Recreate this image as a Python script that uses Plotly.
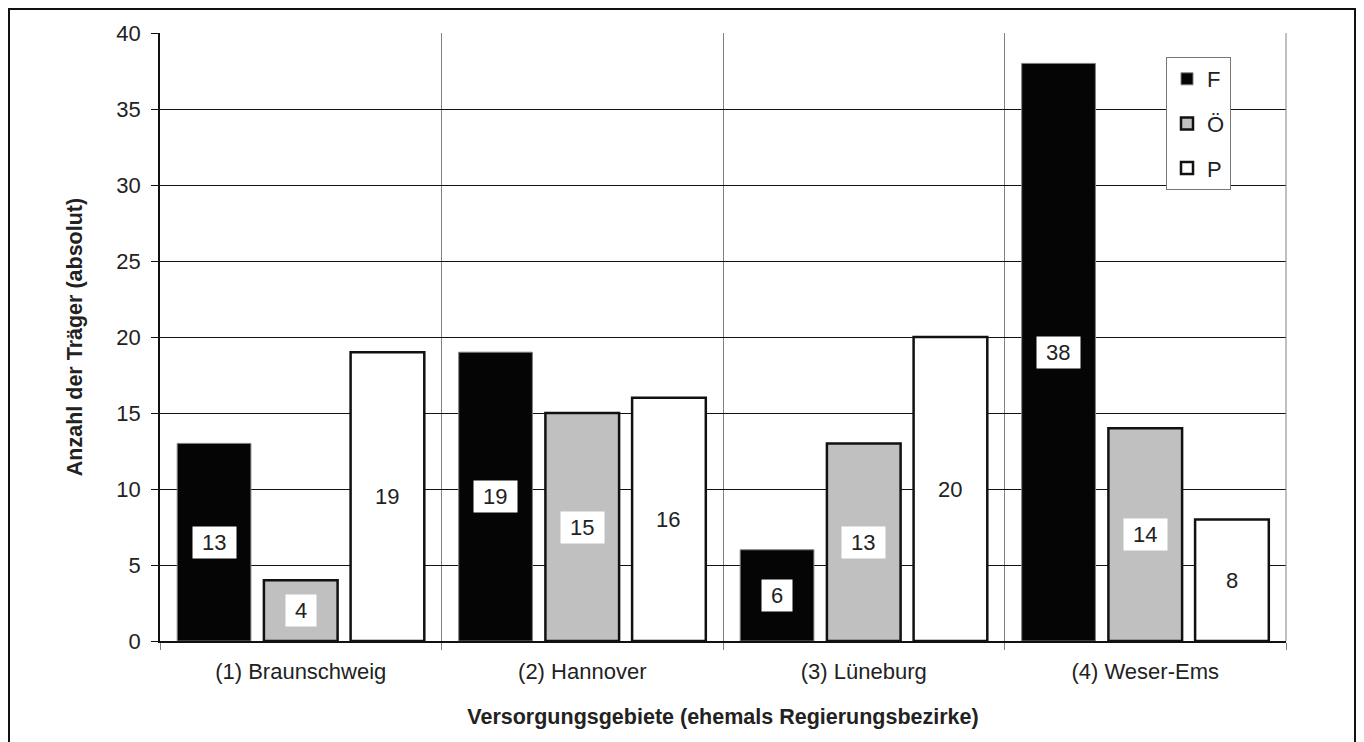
import plotly.graph_objects as go

categories = ["(1) Braunschweig", "(2) Hannover", "(3) Lüneburg", "(4) Weser-Ems"]
series_names = ["F", "Ö", "P"]
values_F = [13, 19, 6, 38]
values_O = [4, 15, 13, 14]
values_P = [19, 16, 20, 8]
y_ticks = [0, 5, 10, 15, 20, 25, 30, 35, 40]

FONT = "Liberation Sans, Arial, sans-serif"
TXT = "#222222"
bargap = 0.076
bargroupgap = 0.15

W, H = 1348, 734
L, R, T, B = 152, 70, 25, 101
PW, PH = W - L - R, H - T - B

series = [
    (series_names[0], values_F, "#050505", "#7f7f7f", 1),
    (series_names[1], values_O, "#c0c0c0", "#111111", 2.5),
    (series_names[2], values_P, "#ffffff", "#111111", 2.5),
]

fig = go.Figure()
for name, vals, fill, lc, lw in series:
    fig.add_trace(go.Bar(
        x=categories, y=vals, name=name, legendgroup=name,
        marker=dict(color=fill, line=dict(color=lc, width=lw)),
        hoverinfo="skip",
    ))

slot = (1 - bargap) / 3
annotations = []
for k, (name, vals, fill, lc, lw) in enumerate(series):
    for i, v in enumerate(vals):
        annotations.append(dict(
            x=i + (k - 1) * slot, y=v / 2, xref="x", yref="y",
            text="\u00a0" + str(v) + "\u00a0", showarrow=False,
            font=dict(family=FONT, size=22, color=TXT),
            bgcolor="#ffffff" if k < 2 else "rgba(0,0,0,0)",
            borderpad=3,
        ))

def px_x(fx):
    return (fx - L) / PW

def px_y(fy):
    return (H - B - fy) / PH

fig.update_layout(
    width=W, height=H,
    margin=dict(l=L, r=R, t=T, b=B),
    paper_bgcolor="white", plot_bgcolor="white",
    barmode="group", bargap=bargap, bargroupgap=bargroupgap,
    font=dict(family=FONT, size=22, color=TXT),
    annotations=annotations,
    legend=dict(
        x=px_x(1158), y=px_y(49), xanchor="left", yanchor="top",
        bgcolor="white", bordercolor="#777777", borderwidth=1,
        font=dict(family=FONT, size=22, color=TXT),
        tracegroupgap=13, itemwidth=30,
    ),
    xaxis=dict(
        type="category", tickson="boundaries",
        showgrid=True, gridcolor="#808080", gridwidth=1,
        ticks="outside", ticklen=7, tickcolor="#808080",
        showline=True, linecolor="#111111", linewidth=1.5,
        ticklabelstandoff=10,
        tickfont=dict(family=FONT, size=22, color=TXT),
        title=dict(text="<b>Versorgungsgebiete (ehemals Regierungsbezirke)</b>",
                   font=dict(family=FONT, size=21.5, color=TXT), standoff=26),
    ),
    yaxis=dict(
        range=[0, 40], tickvals=y_ticks,
        showgrid=True, gridcolor="#111111", gridwidth=1,
        zeroline=False,
        ticks="outside", ticklen=7, tickcolor="#111111",
        showline=True, linecolor="#111111", linewidth=1.5,
        ticklabelstandoff=6,
        tickfont=dict(family=FONT, size=22, color=TXT),
        title=dict(text="<b>Anzahl der Träger (absolut)</b>",
                   font=dict(family=FONT, size=21.5, color=TXT), standoff=28),
    ),
    shapes=[
        dict(type="line", xref="paper", yref="paper", x0=1, x1=1, y0=0, y1=1,
             line=dict(color="#808080", width=1)),
        dict(type="rect", xref="paper", yref="paper",
             x0=px_x(1), x1=px_x(1347), y0=px_y(740), y1=px_y(1),
             line=dict(color="#111111", width=2), fillcolor="rgba(0,0,0,0)",
             layer="below"),
    ],
)

fig.write_html("out.html")
